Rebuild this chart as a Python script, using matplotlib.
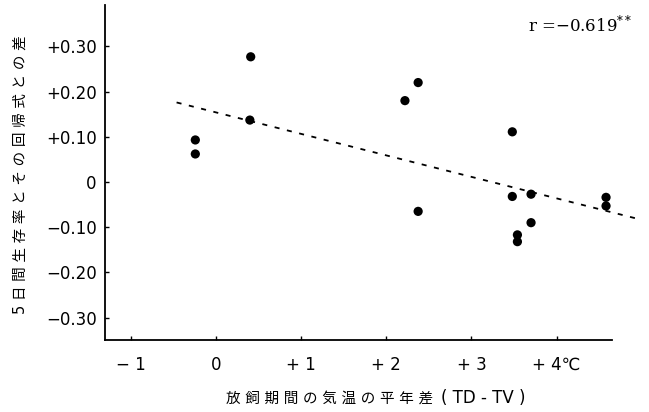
import matplotlib.pyplot as plt

plt.rcParams['font.family'] = ['DejaVu Sans', 'Noto Sans CJK JP']
plt.rcParams['mathtext.fontset'] = 'dejavuserif'

# temperature deviation (TD-TV) and residual of 5-day survival rate
temp_diff = [0.41, 0.40, -0.24, -0.24, 2.375, 2.22, 3.48, 2.375, 3.48,
             3.70, 3.70, 3.54, 3.54, 4.58, 4.58]
resid = [0.277, 0.137, 0.093, 0.062, 0.220, 0.180, 0.111, -0.065, -0.032,
         -0.027, -0.090, -0.117, -0.132, -0.034, -0.053]

# regression line end points
trend_x = [-0.46, 4.92]
trend_y = [0.176, -0.080]

x_ticks = [-1, 0, 1, 2, 3, 4]
x_labels = ['− 1', '0', '+ 1', '+ 2', '+ 3', '+ 4℃']
y_ticks = [-0.3, -0.2, -0.1, 0, 0.1, 0.2, 0.3]
y_labels = ['−0.30', '−0.20', '−0.10', '0', '+0.10', '+0.20', '+0.30']

fig = plt.figure(figsize=(6.49, 4.12), dpi=100)
ax = fig.add_axes([105 / 649, 72 / 412, 507 / 649, 335 / 412])

ax.scatter(temp_diff, resid, s=44, c='black', edgecolors='none', zorder=3)
ax.plot(trend_x, trend_y, color='black', lw=1.3, dashes=(2.8, 4.2),
        clip_on=False)

ax.set_xlim(-1.30, 4.65)
ax.set_ylim(-0.3496, 0.3916)
ax.set_xticks(x_ticks)
ax.set_xticklabels(x_labels)
ax.set_yticks(y_ticks)
ax.set_yticklabels(y_labels)
ax.tick_params(direction='in', length=3, width=1, labelsize=12, colors='black')
ax.tick_params(axis='x', pad=11.5)
ax.tick_params(axis='y', pad=6)

for side in ['top', 'right']:
    ax.spines[side].set_visible(False)
for side in ['left', 'bottom']:
    ax.spines[side].set_linewidth(1.3)

ax.text(1.04, 0.94, r'r =−0.619$^{**}$', transform=ax.transAxes,
        ha='right', va='center', fontsize=12, family='DejaVu Serif')

fig.text(20 / 649, 1 - 175 / 412, '5 日 間 生 存 率 と そ の 回 帰 式 と の 差',
         rotation=90, ha='center', va='center', fontsize=10.5)
fig.text(433 / 649, 1 - 398 / 412, '放 飼 期 間 の 気 温 の 平 年 差',
         ha='right', va='center', fontsize=10.5)
fig.text(441 / 649, 1 - 398 / 412, '( TD - TV )',
         ha='left', va='center', fontsize=12)

fig.savefig('out.png', dpi=100)
